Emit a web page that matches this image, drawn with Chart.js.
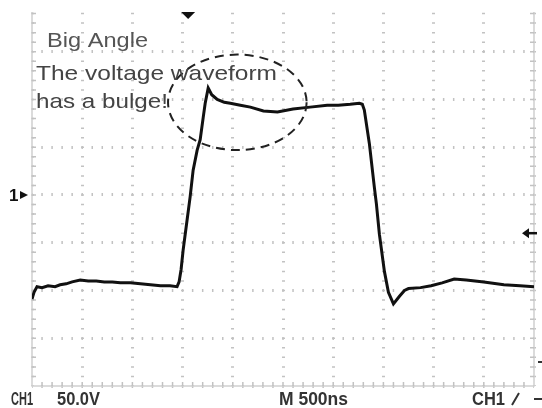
<!DOCTYPE html>
<html>
<head>
<meta charset="utf-8">
<script src="https://cdn.jsdelivr.net/npm/chart.js@4.4.0/dist/chart.umd.min.js"></script>
<style>
  html, body { margin: 0; padding: 0; background: #fff; }
  #wrap { width: 542px; height: 408px; position: relative; }
</style>
</head>
<body>
<div id="wrap"><canvas id="scope"></canvas></div>
<script>
// ── Data: CH1, 50 V/div, 500 ns/div ───────────────────────────────────
const timeNs = [
  0, 20, 50, 100, 160, 230, 280, 340, 400, 480, 560, 640, 720, 800, 880, 980,
  1080, 1180, 1280, 1375, 1445, 1465, 1485, 1505, 1545, 1575, 1605, 1645, 1675,
  1705, 1725, 1755, 1790, 1845, 1915, 1975, 2075, 2175, 2305, 2445, 2600, 2770,
  2940, 3050, 3170, 3260, 3290, 3310, 3360, 3410, 3430, 3460, 3510, 3550, 3600,
  3660, 3710, 3750, 3870, 3975, 4085, 4205, 4325, 4500, 4700, 4860, 5000
];
const volts = [
  -109, -102, -96, -97, -95, -96, -94, -93, -91, -89, -90, -90, -91, -91, -92, -92,
  -93, -94, -95, -95, -96, -91, -78, -58, -26, -2, 26, 47, 58,
  81, 96, 112, 105, 100, 97, 96, 94, 92, 88, 87, 90, 92,
  94, 94, 95, 96, 95, 89, 54, 8, -9, -41, -80, -102, -114,
  -106, -100, -98, -97, -95, -92, -88, -89, -91, -94, -95, -96
];
const xTicks = [0, 500, 1000, 1500, 2000, 2500, 3000, 3500, 4000, 4500, 5000];
const yTicks = [-200, -150, -100, -50, 0, 50, 100, 150];
const notes = ['Big Angle', 'The voltage waveform', 'has a bulge!'];
const bulge = { t: 2045, v: 97, rt: 690, rv: 50 };   // dashed ellipse, data units
const triggerNs = 1555;
const triggerLevelV = -40;

const X_MIN = 0, X_MAX = 5000, Y_MIN = -200, Y_MAX = 191.6;
const GRID = '#c2c2c2';
const EDGE = '#cfcfcf';

// draw text squeezed/stretched to a target width
function fitText(ctx, text, x, y, w) {
  const m = ctx.measureText(text).width;
  ctx.save();
  ctx.translate(x, y);
  ctx.scale(w / m, 1);
  ctx.fillText(text, 0, 0);
  ctx.restore();
}

// ── Scope frame: edge lines with minor ticks ──────────────────────────
const frame = {
  id: 'frame',
  beforeDatasetsDraw(chart) {
    const { ctx, chartArea: a, scales: { x, y } } = chart;
    ctx.save();
    ctx.strokeStyle = EDGE;
    ctx.lineWidth = 1.5;
    ctx.beginPath();
    ctx.moveTo(a.left, a.top); ctx.lineTo(a.left, a.bottom);
    ctx.lineTo(a.right, a.bottom); ctx.lineTo(a.right, a.top);
    ctx.stroke();
    ctx.strokeStyle = GRID;
    ctx.beginPath();
    for (let v = Y_MIN + 10; v < Y_MAX; v += 10) {
      const py = y.getPixelForValue(v);
      ctx.moveTo(a.left, py); ctx.lineTo(a.left + 4, py);
      ctx.moveTo(a.right, py); ctx.lineTo(a.right - 4, py);
    }
    for (let t = X_MIN + 100; t < X_MAX; t += 100) {
      const px = x.getPixelForValue(t);
      ctx.moveTo(px, a.bottom); ctx.lineTo(px, a.bottom - 4);
    }
    ctx.stroke();
    ctx.restore();
  }
};

// ── Annotations and scope read-outs ───────────────────────────────────
const marks = {
  id: 'marks',
  afterDatasetsDraw(chart) {
    const { ctx, chartArea: a, scales: { x, y } } = chart;
    ctx.save();

    // dashed ellipse around the bulge
    const cx = x.getPixelForValue(bulge.t), cy = y.getPixelForValue(bulge.v);
    const rx = x.getPixelForValue(bulge.t + bulge.rt) - cx;
    const ry = cy - y.getPixelForValue(bulge.v + bulge.rv);
    ctx.strokeStyle = '#222';
    ctx.lineWidth = 2;
    ctx.setLineDash([9, 6]);
    ctx.beginPath();
    ctx.ellipse(cx, cy, rx, ry, 0, 0, Math.PI * 2);
    ctx.stroke();
    ctx.setLineDash([]);

    // note text
    ctx.font = '21px "Liberation Sans", Arial, sans-serif';
    ctx.fillStyle = '#555';
    fitText(ctx, notes[0], 47, 47, 101);
    ctx.fillStyle = '#444';
    fitText(ctx, notes[1], 36, 80, 241);
    fitText(ctx, notes[2], 36, 108, 132);

    // trigger position marker
    const tx = x.getPixelForValue(triggerNs);
    ctx.fillStyle = '#111';
    ctx.beginPath();
    ctx.moveTo(tx - 7, a.top); ctx.lineTo(tx + 7, a.top); ctx.lineTo(tx, a.top + 7);
    ctx.fill();

    // trigger level arrow
    const ly = y.getPixelForValue(triggerLevelV);
    ctx.beginPath();
    ctx.moveTo(522, ly); ctx.lineTo(529, ly - 5); ctx.lineTo(529, ly + 5);
    ctx.fill();
    ctx.strokeStyle = '#111';
    ctx.lineWidth = 2.5;
    ctx.beginPath();
    ctx.moveTo(527, ly); ctx.lineTo(537, ly);
    ctx.stroke();

    // channel 1 ground marker
    const gy = y.getPixelForValue(0);
    ctx.font = 'bold 17px "Liberation Sans", Arial, sans-serif';
    ctx.fillStyle = '#111';
    ctx.fillText('1', 9, gy + 6);
    ctx.beginPath();
    ctx.moveTo(20, gy - 4); ctx.lineTo(28, gy); ctx.lineTo(20, gy + 4);
    ctx.fill();

    // bottom read-outs
    ctx.font = 'bold 18px "Liberation Sans", Arial, sans-serif';
    ctx.fillStyle = '#333';
    fitText(ctx, 'CH1', 11, 405, 22);
    fitText(ctx, '50.0V', 57, 405, 43);
    fitText(ctx, 'M 500ns', 279, 405, 69);
    fitText(ctx, 'CH1', 472, 405, 33);
    ctx.strokeStyle = '#333';
    ctx.lineWidth = 2;
    ctx.beginPath();
    ctx.moveTo(512, 405); ctx.lineTo(519, 393);
    ctx.moveTo(534, 399); ctx.lineTo(542, 399);
    ctx.moveTo(538, 362); ctx.lineTo(542, 362);
    ctx.stroke();

    ctx.restore();
  }
};

new Chart(document.getElementById('scope'), {
  type: 'line',
  data: {
    datasets: [{
      data: timeNs.map((t, i) => ({ x: t, y: volts[i] })),
      borderColor: '#111',
      borderWidth: 3,
      pointRadius: 0,
      tension: 0
    }]
  },
  options: {
    responsive: true,
    maintainAspectRatio: false,
    animation: false,
    layout: { padding: { left: 32, right: 8, top: 12, bottom: 22 } },
    plugins: { legend: { display: false }, tooltip: { enabled: false } },
    scales: {
      x: {
        type: 'linear', min: X_MIN, max: X_MAX,
        afterBuildTicks: s => { s.ticks = xTicks.map(v => ({ value: v })); },
        ticks: { display: false },
        border: { display: false, dash: [1.5, 8.05], dashOffset: 8.75 },
        grid: { color: GRID, lineWidth: 3, drawTicks: false }
      },
      y: {
        type: 'linear', min: Y_MIN, max: Y_MAX,
        afterBuildTicks: s => { s.ticks = yTicks.map(v => ({ value: v })); },
        ticks: { display: false },
        border: { display: false, dash: [1.5, 8.54], dashOffset: 0.75 },
        grid: { color: GRID, lineWidth: 3, drawTicks: false }
      }
    }
  },
  plugins: [frame, marks]
});
</script>
</body>
</html>
